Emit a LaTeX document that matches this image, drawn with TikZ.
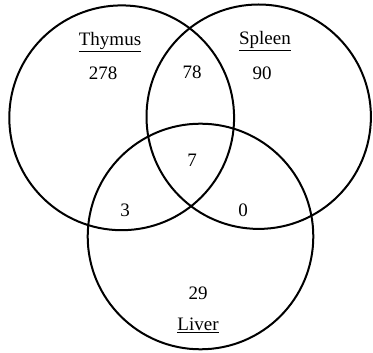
\documentclass[tikz,border=0pt]{standalone}
\usepackage{fontspec}
\setmainfont{Liberation Serif}
\usepackage{tikz}

\begin{document}
\begin{tikzpicture}[
    x=1pt,
    y=1pt,
    set/.style={line width=2pt},
    num/.style={font=\fontsize{19}{21}\selectfont, inner sep=0pt},
    lab/.style={font=\fontsize{19}{21}\selectfont, inner sep=0pt}
]
\useasboundingbox (0,0) rectangle (373,353);
% the three sets
\coordinate (thymus) at (121.7,235.2);
\coordinate (spleen) at (258.7,236.3);
\coordinate (liver)  at (200.5,116.5);
\draw[set] (thymus) circle (112.4);
\draw[set] (spleen) circle (112.2);
\draw[set] (liver)  circle (112.8);

% set names
\node[lab] (tlab) at (110,311) {\underline{Thymus}};
\node[lab] (slab) at (265,312) {\underline{Spleen}};
\node[lab] (llab) at (198,28) {\underline{Liver}};

% counts
\node[num] (nT)   at (103,280) {278};
\node[num] (nTS)  at (192,281) {78};
\node[num] (nS)   at (262,280) {90};
\node[num] (nTSL) at (192,193) {7};
\node[num] (nTL)  at (125,143) {3};
\node[num] (nSL)  at (243,143) {0};
\node[num] (nL)   at (198,60) {29};
\end{tikzpicture}
\end{document}
